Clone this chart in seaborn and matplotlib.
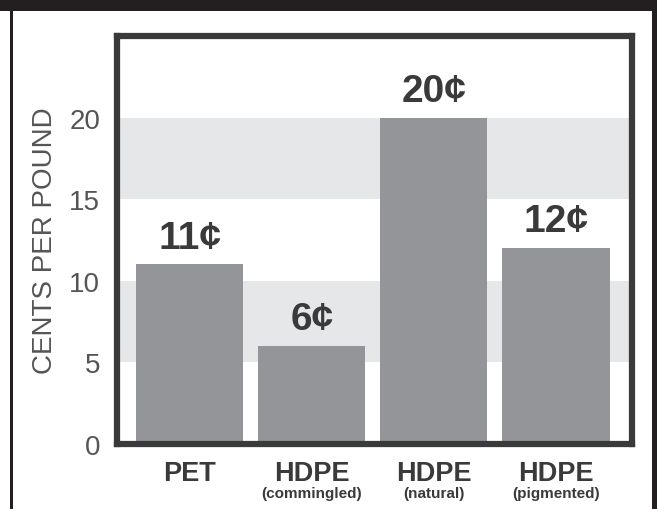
import matplotlib
matplotlib.use("Agg")
import matplotlib.pyplot as plt
import matplotlib.patches as mpatches
import seaborn as sns
import pandas as pd

# values
kategoriler = ["PET", "HDPE", "HDPE", "HDPE"]
alt_etiketler = ["", "(commingled)", "(natural)", "(pigmented)"]
sent_per_pound = [11, 6, 20, 12]
bar_etiketleri = ["11¢", "6¢", "20¢", "12¢"]
y_tikler = [0, 5, 10, 15, 20]

veri = pd.DataFrame({"poz": range(len(kategoriler)), "sent": sent_per_pound})

sns.set_style("white")
plt.rcParams["font.family"] = ["Liberation Sans", "DejaVu Sans"]

fig = plt.figure(figsize=(6.57, 5.10), dpi=100)
ax = fig.add_axes([0.178, 0.1284, 0.784, 0.799])

# light bands behind bars
for alt, ust in [(5, 10), (15, 20)]:
    ax.axhspan(alt, ust, color="#e6e7e8", zorder=0, lw=0)

sns.barplot(data=veri, x="poz", y="sent", color="#939598", saturation=1,
            width=0.877, native_scale=True, ax=ax, zorder=2, edgecolor="none")

for i, (deger, yazi) in enumerate(zip(sent_per_pound, bar_etiketleri)):
    ax.annotate(yazi, (i, deger), xytext=(0, 12), textcoords="offset points",
                ha="center", va="baseline", fontsize=28, fontweight="bold",
                color="#3a3a3a")

ax.set_xlim(-0.598, 3.623)
ax.set_ylim(0, 25)
ax.set_yticks(y_tikler)
ax.set_yticklabels([str(t) for t in y_tikler], fontsize=20, color="#555555")
ax.set_xticks(range(len(kategoriler)))
ax.set_xticklabels(kategoriler, fontsize=19.5, fontweight="bold", color="#3a3a3a")
ax.tick_params(axis="both", length=0)
ax.tick_params(axis="y", pad=12)
ax.tick_params(axis="x", pad=12)

for i, alt in enumerate(alt_etiketler):
    ax.text(i, -0.104, alt, transform=ax.get_xaxis_transform(), ha="center",
            va="top", fontsize=11, fontweight="bold", color="#3a3a3a")

ax.set_xlabel("")
ax.set_ylabel("CENTS PER POUND", fontsize=20, color="#555555", labelpad=8)

for kenar in ax.spines.values():
    kenar.set_visible(True)
    kenar.set_linewidth(4.5)
    kenar.set_color("#3a3a3a")

# black frame around the figure
fig.add_artist(mpatches.Rectangle((0, 1 - 12 / 510), 1, 12 / 510,
                                  transform=fig.transFigure, color="#231f20", lw=0))
fig.add_artist(mpatches.Rectangle((10 / 657, 0), 2.5 / 657, 1,
                                  transform=fig.transFigure, color="#231f20", lw=0))
fig.add_artist(mpatches.Rectangle((652 / 657, 0), 5 / 657, 1,
                                  transform=fig.transFigure, color="#231f20", lw=0))

fig.savefig("out.png", dpi=100)
